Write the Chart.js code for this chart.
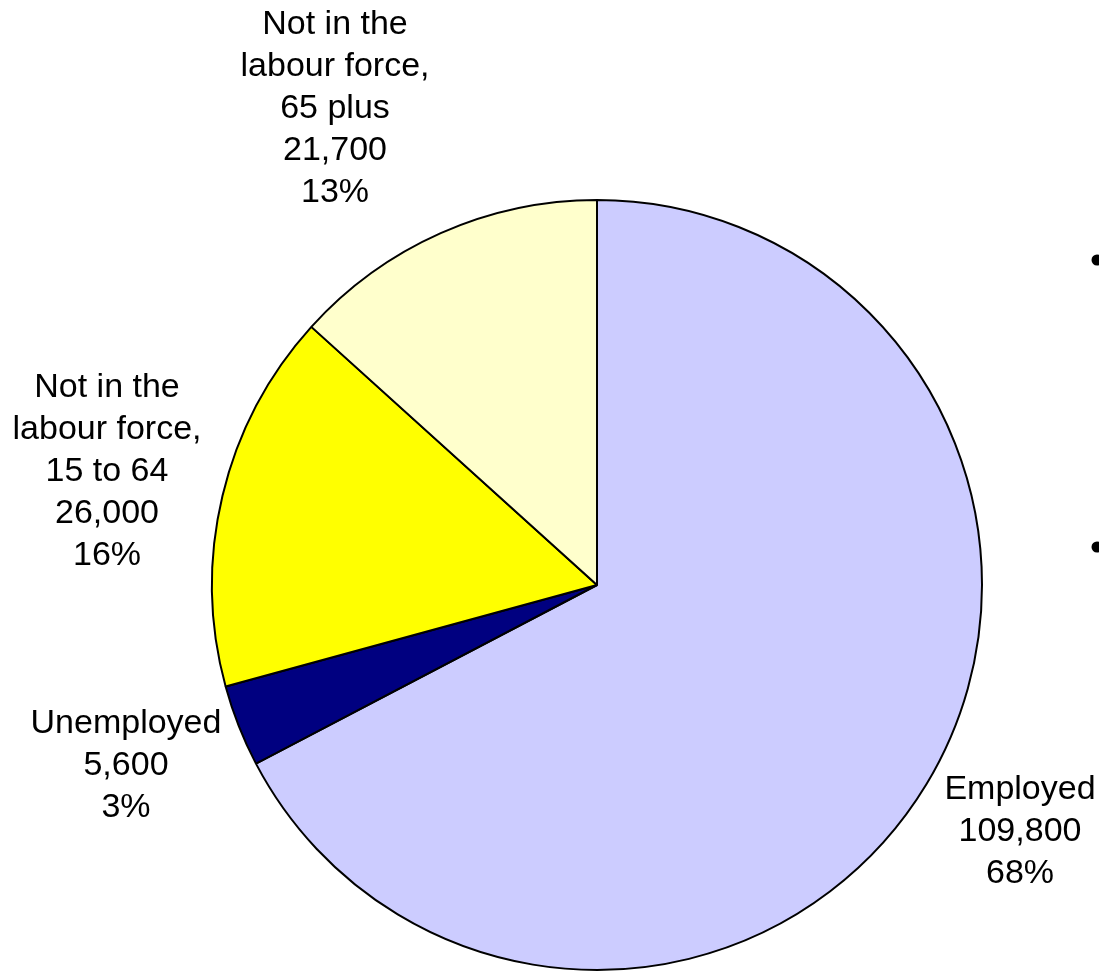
<!DOCTYPE html>
<html>
<head>
<meta charset="utf-8">
<script src="https://cdn.jsdelivr.net/npm/chart.js@4/dist/chart.umd.min.js"></script>
<style>
  html, body { margin: 0; padding: 0; background: #fff; }
  #wrap { width: 1099px; height: 972px; position: relative; overflow: hidden; }
</style>
</head>
<body>
<div id="wrap"><canvas id="pieChart"></canvas></div>
<script>
// Labour force breakdown
const categories = ["Employed", "Unemployed", "Not in the labour force, 15 to 64", "Not in the labour force, 65 plus"];
const counts = [109800, 5600, 26000, 21700];
const countLabels = ["109,800", "5,600", "26,000", "21,700"];
const pctLabels = ["68%", "3%", "16%", "13%"];
const nameLines = [["Employed"], ["Unemployed"], ["Not in the", "labour force,", "15 to 64"], ["Not in the", "labour force,", "65 plus"]];

const sliceColors = ["#CCCCFF", "#000080", "#FFFF00", "#FFFFCC"];

// label anchor, relative to the pie centre (x centre, first baseline)
const labelOffsets = [[423, 214], [-471, 148], [-490, -188], [-262, -551]];

const labelPlugin = {
  id: "sliceLabels",
  afterDatasetsDraw(chart) {
    const ctx = chart.ctx;
    const arcs = chart.getDatasetMeta(0).data;
    const cx = arcs[0].x, cy = arcs[0].y;
    ctx.save();
    ctx.fillStyle = "#000";
    ctx.font = "34px 'Liberation Sans', Arial, sans-serif";
    ctx.textAlign = "center";
    ctx.textBaseline = "alphabetic";
    categories.forEach((c, i) => {
      const lines = nameLines[i].concat([countLabels[i], pctLabels[i]]);
      const [dx, dy] = labelOffsets[i];
      lines.forEach((t, j) => ctx.fillText(t, cx + dx, cy + dy + j * 42));
    });
    // stray bullet points at the right edge of the slide
    [[1097, 260], [1097, 547]].forEach(p => {
      ctx.beginPath();
      ctx.arc(p[0], p[1], 5.5, 0, Math.PI * 2);
      ctx.fill();
    });
    ctx.restore();
  }
};

new Chart(document.getElementById("pieChart"), {
  type: "pie",
  data: {
    labels: categories,
    datasets: [{
      data: counts,
      backgroundColor: sliceColors,
      borderColor: "#000",
      borderWidth: 2
    }]
  },
  options: {
    responsive: true,
    maintainAspectRatio: false,
    animation: false,
    layout: { padding: { left: 211, top: 199, right: 116, bottom: 1 } },
    plugins: {
      legend: { display: false },
      tooltip: { enabled: false }
    }
  },
  plugins: [labelPlugin]
});
</script>
</body>
</html>
